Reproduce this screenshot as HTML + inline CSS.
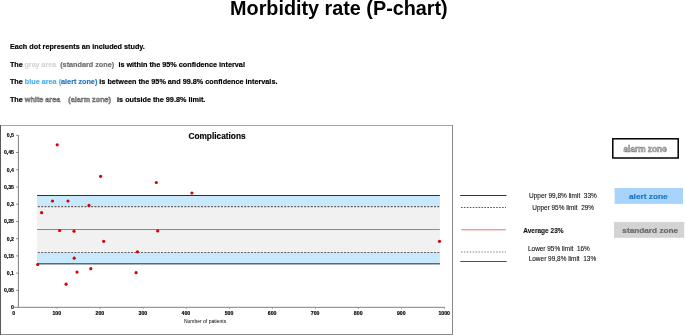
<!DOCTYPE html>
<html><head><meta charset="utf-8">
<style>
html,body{margin:0;padding:0;background:#fff;width:685px;height:335px;overflow:hidden}
svg{display:block;will-change:transform;font-family:"Liberation Sans",sans-serif}
.b{font-weight:bold}
text{white-space:pre}
</style></head>
<body>
<svg width="685" height="335" viewBox="0 0 685 335" xml:space="preserve">
<!-- title -->
<text x="230.1" y="14.9" class="b" font-size="20.3" fill="#000" textLength="217.6" lengthAdjust="spacingAndGlyphs">Morbidity rate (P-chart)</text>

<!-- intro lines -->
<g class="b" font-size="7.26" fill="#000" stroke="#000" stroke-width="0.18">
<text x="9.9" y="49.2" textLength="135" lengthAdjust="spacingAndGlyphs">Each dot represents an included study.</text>
<text x="9.9" y="66.7">The <tspan x="24.5" fill="#d4d4d4" stroke="#d4d4d4" stroke-width="0.12" textLength="31.7" lengthAdjust="spacingAndGlyphs">gray area</tspan><tspan x="60.2" fill="#6c6c6c" stroke="#6c6c6c">(standard zone)</tspan><tspan x="118.4">is within the 95% confidence interval</tspan></text>
<text x="9.9" y="84">The <tspan fill="#4fb0ef" stroke="#4fb0ef">blue area (</tspan><tspan fill="#1f78c0" stroke="#1f78c0">alert zone)</tspan> is between the 95% and 99.8% confidence intervals.</text>
<text x="9.9" y="101.5">The <tspan fill="#b8b8b8" stroke="#5c5c5c" stroke-width="0.45">white area</tspan>    <tspan fill="#b8b8b8" stroke="#5c5c5c" stroke-width="0.45">(alarm zone)</tspan>   is outside the 99.8% limit.</text>
</g>

<!-- chart frame -->
<rect x="0" y="125" width="453" height="1" fill="#a8a8a8"/>
<rect x="452" y="125" width="1" height="210" fill="#8a8a8a"/>
<rect x="0" y="334" width="453" height="1" fill="#8a8a8a"/>
<rect x="0" y="125" width="1" height="210" fill="#5a5a5a"/>

<text x="188.4" y="138.8" class="b" font-size="8.3" fill="#000" stroke="#000" stroke-width="0.15" textLength="57.2" lengthAdjust="spacingAndGlyphs">Complications</text>

<!-- bands -->
<rect x="37.1" y="195.5" width="402.8" height="11" fill="#c8e8fb"/>
<rect x="37.1" y="206.5" width="402.8" height="46" fill="#f1f1f1"/>
<rect x="37.1" y="252.5" width="402.8" height="11.3" fill="#c8e8fb"/>
<g stroke-width="1">
<line x1="37.1" y1="195.5" x2="439.9" y2="195.5" stroke="#303030"/>
<line x1="37.85" y1="206.65" x2="439.9" y2="206.65" stroke="#606060" stroke-width="1.1" stroke-dasharray="2 1.3287"/>
<line x1="37.1" y1="229.5" x2="439.9" y2="229.5" stroke="#e06464"/>
<line x1="37.85" y1="252.5" x2="439.9" y2="252.5" stroke="#606060" stroke-width="1.1" stroke-dasharray="2 1.3287"/>
<line x1="37.1" y1="263.8" x2="439.9" y2="263.8" stroke="#5a6a74" stroke-width="1.4"/>
</g>

<!-- axes -->
<g fill="#808080">
<rect x="17.9" y="135" width="1" height="172.8"/>
<rect x="13.9" y="306.8" width="431" height="1"/>
</g>
<g id="yt" stroke="#808080" stroke-width="1">
<line x1="16.2" x2="18" y1="135.3" y2="135.3"/>
<line x1="16.2" x2="18" y1="152.5" y2="152.5"/>
<line x1="16.2" x2="18" y1="169.8" y2="169.8"/>
<line x1="16.2" x2="18" y1="187.0" y2="187.0"/>
<line x1="16.2" x2="18" y1="204.2" y2="204.2"/>
<line x1="16.2" x2="18" y1="221.5" y2="221.5"/>
<line x1="16.2" x2="18" y1="238.7" y2="238.7"/>
<line x1="16.2" x2="18" y1="255.9" y2="255.9"/>
<line x1="16.2" x2="18" y1="273.1" y2="273.1"/>
<line x1="16.2" x2="18" y1="290.3" y2="290.3"/>
</g>
<g stroke="#909090" stroke-width="0.8">
<line x1="57.1" x2="57.1" y1="307.3" y2="309"/>
<line x1="100.1" x2="100.1" y1="307.3" y2="309"/>
<line x1="143.2" x2="143.2" y1="307.3" y2="309"/>
<line x1="186.3" x2="186.3" y1="307.3" y2="309"/>
<line x1="229.4" x2="229.4" y1="307.3" y2="309"/>
<line x1="272.4" x2="272.4" y1="307.3" y2="309"/>
<line x1="315.5" x2="315.5" y1="307.3" y2="309"/>
<line x1="358.6" x2="358.6" y1="307.3" y2="309"/>
<line x1="401.6" x2="401.6" y1="307.3" y2="309"/>
<line x1="444.5" x2="444.5" y1="307.3" y2="309"/>
</g>
<g class="b" font-size="5.2" fill="#000" stroke="#000" stroke-width="0.15" text-anchor="end">
<text x="14" y="137.1">0,5</text>
<text x="14" y="154.3">0,45</text>
<text x="14" y="171.6">0,4</text>
<text x="14" y="188.8">0,35</text>
<text x="14" y="206.0">0,3</text>
<text x="14" y="223.3">0,25</text>
<text x="14" y="240.5">0,2</text>
<text x="14" y="257.7">0,15</text>
<text x="14" y="274.9">0,1</text>
<text x="14" y="292.1">0,05</text>
<text x="14" y="309.0">0</text>
</g>
<g class="b" font-size="5.2" fill="#000" stroke="#000" stroke-width="0.15" text-anchor="middle">
<text x="13.6" y="314.7">0</text>
<text x="56.8" y="314.7">100</text>
<text x="99.9" y="314.7">200</text>
<text x="142.9" y="314.7">300</text>
<text x="185.9" y="314.7">400</text>
<text x="229" y="314.7">500</text>
<text x="272.1" y="314.7">600</text>
<text x="315.1" y="314.7">700</text>
<text x="358.2" y="314.7">800</text>
<text x="401.3" y="314.7">900</text>
<text x="444.2" y="314.7">1000</text>
</g>
<text x="183.9" y="322.6" font-size="5" fill="#000" textLength="42.3" lengthAdjust="spacingAndGlyphs">Number of patients</text>

<!-- dots -->
<g fill="#d80000">
<circle cx="37.7" cy="264.5" r="1.6"/>
<circle cx="41.6" cy="212.7" r="1.6"/>
<circle cx="52.5" cy="201.0" r="1.6"/>
<circle cx="57.2" cy="144.8" r="1.6"/>
<circle cx="59.6" cy="230.5" r="1.6"/>
<circle cx="66.1" cy="284.2" r="1.6"/>
<circle cx="68.0" cy="201.0" r="1.6"/>
<circle cx="74.0" cy="231.2" r="1.6"/>
<circle cx="74.2" cy="258.2" r="1.6"/>
<circle cx="77.0" cy="272.1" r="1.6"/>
<circle cx="89.0" cy="205.4" r="1.6"/>
<circle cx="90.8" cy="268.7" r="1.6"/>
<circle cx="100.6" cy="176.3" r="1.6"/>
<circle cx="103.7" cy="241.3" r="1.6"/>
<circle cx="136.1" cy="272.7" r="1.6"/>
<circle cx="137.4" cy="251.8" r="1.6"/>
<circle cx="156.3" cy="182.5" r="1.6"/>
<circle cx="157.7" cy="230.9" r="1.6"/>
<circle cx="191.9" cy="193.0" r="1.6"/>
<circle cx="439.5" cy="241.3" r="1.6"/>
</g>

<!-- legend lines -->
<line x1="460.1" y1="195.5" x2="506.5" y2="195.5" stroke="#333" stroke-width="1"/>
<line x1="461" y1="207.5" x2="506" y2="207.5" stroke="#444" stroke-width="0.9" stroke-dasharray="1.6 1.33"/>
<line x1="461.4" y1="229.8" x2="505.8" y2="229.8" stroke="#f07070" stroke-width="1"/>
<line x1="461" y1="252" x2="506" y2="252" stroke="#777" stroke-width="0.9" stroke-dasharray="1.5 1.42"/>
<line x1="460.3" y1="261.5" x2="506.8" y2="261.5" stroke="#555" stroke-width="1.1"/>

<g font-size="6.45" fill="#111" stroke="#111" stroke-width="0.1">
<text x="529" y="198.1" textLength="67.8" lengthAdjust="spacingAndGlyphs">Upper 99,8% limit  33%</text>
<text x="532.3" y="210.0" textLength="61.7" lengthAdjust="spacingAndGlyphs">Upper 95% limit  29%</text>
<text x="523.2" y="232.6" class="b" textLength="40.4" lengthAdjust="spacingAndGlyphs">Average 23%</text>
<text x="528" y="251" textLength="61.8" lengthAdjust="spacingAndGlyphs">Lower 95% limit  16%</text>
<text x="528.7" y="261.2" textLength="67.5" lengthAdjust="spacingAndGlyphs">Lower 99,8% limit  13%</text>
</g>

<!-- zone boxes -->
<rect x="612.8" y="138.8" width="65.4" height="19.2" fill="#fff" stroke="#000" stroke-width="1.5"/>
<text x="623.4" y="151.8" class="b" font-size="8.3" fill="#d4d4d4" stroke="#777" stroke-width="0.5" textLength="43.4" lengthAdjust="spacingAndGlyphs">alarm zone</text>

<rect x="614.6" y="188" width="68.4" height="15.9" fill="#a8d4fb"/>
<text x="629" y="198.8" class="b" font-size="7.9" fill="#1b78c2" stroke="#1b78c2" stroke-width="0.2" textLength="38.7" lengthAdjust="spacingAndGlyphs">alert zone</text>

<rect x="614" y="221.9" width="70.2" height="15.9" fill="#d3d3d3"/>
<text x="622.3" y="232.8" class="b" font-size="7.9" fill="#6a6a6a" stroke="#6a6a6a" stroke-width="0.2" textLength="55.9" lengthAdjust="spacingAndGlyphs">standard zone</text>
</svg>
</body></html>
